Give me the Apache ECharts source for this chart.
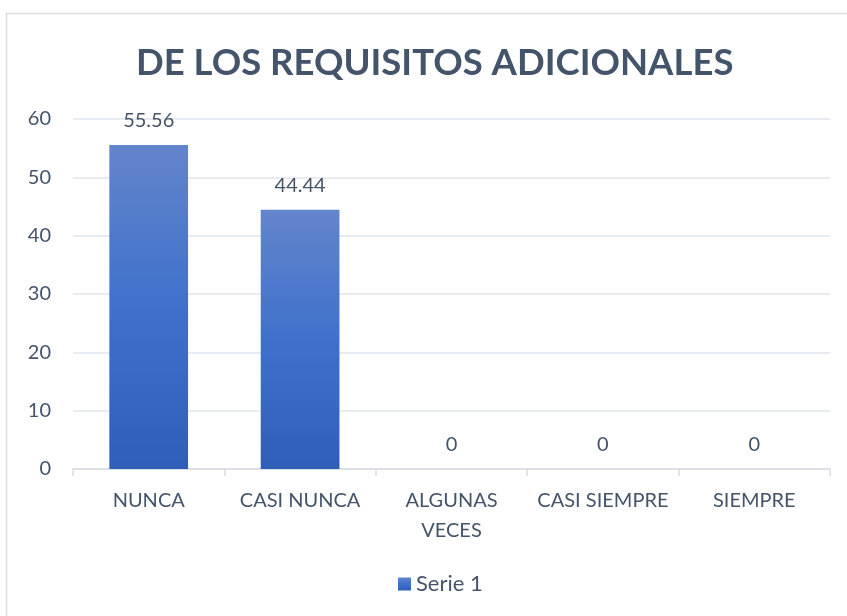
<!DOCTYPE html>
<html>
<head>
<meta charset="utf-8">
<script src="https://cdn.jsdelivr.net/npm/echarts@6/dist/echarts.min.js"></script>
<style>
  html, body { margin: 0; padding: 0; background: #fff; }
  #chart { width: 847px; height: 616px; }
</style>
</head>
<body>
<div id="chart"></div>
<script>
const categories = ['NUNCA', 'CASI NUNCA', 'ALGUNAS\nVECES', 'CASI SIEMPRE', 'SIEMPRE'];
const values = [55.56, 44.44, 0, 0, 0];
const seriesName = 'Serie 1';
const titleText = 'DE LOS REQUISITOS ADICIONALES';

const textColor = '#44546a';
const font = 'Lato';

const chart = echarts.init(document.getElementById('chart'));

chart.setOption({
  animation: false,
  graphic: [{
    type: 'rect',
    shape: { x: 6.5, y: 13.5, width: 860, height: 620 },
    style: { fill: 'none', stroke: '#d9dde3', lineWidth: 1.5 },
    silent: true
  }],
  title: {
    text: titleText,
    left: 131,
    top: 40,
    textStyle: { color: textColor, fontFamily: font, fontWeight: 'bold', fontSize: 36.5 }
  },
  legend: {
    bottom: 16,
    left: 393,
    icon: 'rect',
    itemWidth: 13,
    itemHeight: 13,
    itemGap: 5,
    data: [seriesName],
    textStyle: { color: textColor, fontFamily: font, fontSize: 22 }
  },
  grid: { left: 73, right: 17, top: 119, bottom: 147, containLabel: false },
  xAxis: {
    type: 'category',
    data: categories,
    axisLine: { lineStyle: { color: '#d9dde3', width: 1.5 } },
    axisTick: { show: true, length: 7, lineStyle: { color: '#d9dde3', width: 1.5 } },
    axisLabel: { color: textColor, fontFamily: font, fontSize: 20, margin: 17, lineHeight: 30, interval: 0 }
  },
  yAxis: {
    type: 'value',
    min: 0,
    max: 60,
    interval: 10,
    axisLine: { show: false },
    axisTick: { show: false },
    splitLine: { lineStyle: { color: '#e1e5eb', width: 1.5 } },
    axisLabel: { color: textColor, fontFamily: font, fontSize: 20, margin: 22 }
  },
  series: [{
    name: seriesName,
    type: 'bar',
    data: values,
    barWidth: '52%',
    itemStyle: {
      color: new echarts.graphic.LinearGradient(0, 0, 0, 1, [
        { offset: 0, color: '#6385cc' },
        { offset: 0.5, color: '#3f71cc' },
        { offset: 1, color: '#2f5eb8' }
      ])
    },
    label: {
      show: true,
      position: 'top',
      distance: 14,
      color: textColor,
      fontFamily: font,
      fontSize: 20
    }
  }]
});
</script>
</body>
</html>
